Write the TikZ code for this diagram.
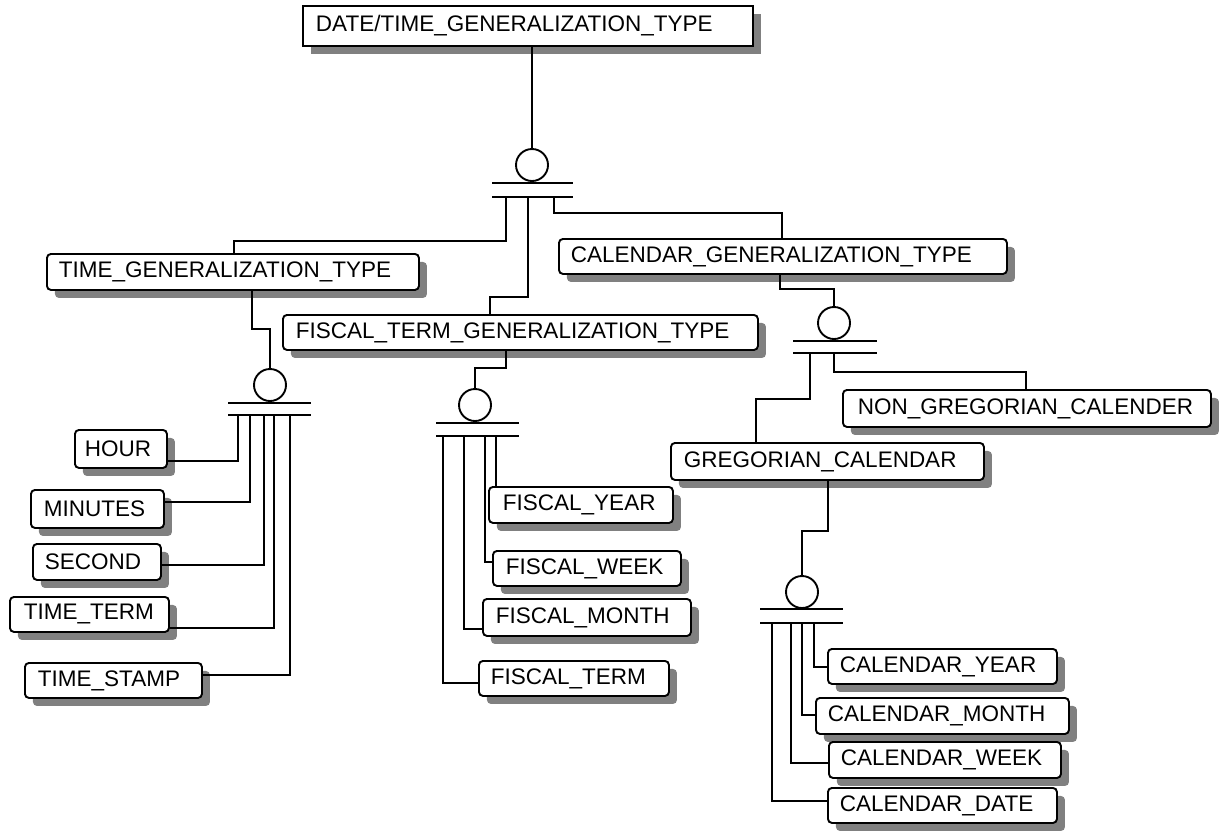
\documentclass[tikz,border=0pt]{standalone}
\usepackage{fontspec}
\setmainfont{Liberation Sans}
\usetikzlibrary{shadows}
\tikzset{
  ent/.style={draw, line width=1.9pt, fill=white, rounded corners=4pt, anchor=north west,
    inner ysep=0pt, align=left, font=\fontsize{22.5}{26}\selectfont,
    drop shadow={shadow xshift=8pt, shadow yshift=-8pt, opacity=1, fill=black!50}},
  indep/.style={ent, rounded corners=0pt},
  conn/.style={line width=1.9pt},
  gcirc/.style={circle, draw, line width=1.9pt, minimum size=32pt, inner sep=0pt, fill=white},
}
\newcommand\ebox[8][ent]{%
  \pgfmathsetmacro\ebw{#5-#3}%
  \pgfmathsetmacro\ebh{#6-#4}%
  \pgfmathsetmacro\ebp{#7-#3}%
  \pgfmathsetmacro\ebt{#5-#3-2*(#7-#3)}%
  \node[#1, minimum width=\ebw pt, minimum height=\ebh pt, inner xsep=\ebp pt, text width=\ebt pt] (#2) at (#3,#4) {#8};}
\newcommand\gbars[4]{% y1 y2 xl xr
  \draw[conn] (#3,#1) -- (#4,#1);
  \draw[conn] (#3,#2) -- (#4,#2);}
\begin{document}
\begin{tikzpicture}[x=1pt,y=-1pt]
\useasboundingbox (0,0) rectangle (1223,831);

% ---------- entities ----------
\ebox[indep]{top}{302}{5}{752}{45}{315}{DATE/TIME\_GENERALIZATION\_TYPE}
\ebox{tgen}{46}{253}{418}{289}{58}{TIME\_GENERALIZATION\_TYPE}
\ebox{fgen}{282}{314}{757}{349}{295}{FISCAL\_TERM\_GENERALIZATION\_TYPE}
\ebox{cgen}{558}{238}{1006}{273}{570}{CALENDAR\_GENERALIZATION\_TYPE}

\ebox{hour}{74}{429}{166}{467}{84}{HOUR}
\ebox{minu}{30}{489}{163}{527}{43}{MINUTES}
\ebox{seco}{32}{543}{160}{579}{44}{SECOND}
\ebox{tterm}{9}{596}{168}{631}{23}{TIME\_TERM}
\ebox{tstamp}{24}{662}{201}{697}{37}{TIME\_STAMP}

\ebox{fyear}{488}{486}{672}{522}{502}{FISCAL\_YEAR}
\ebox{fweek}{492}{550}{680}{585}{505}{FISCAL\_WEEK}
\ebox{fmonth}{482}{598}{690}{635}{495}{FISCAL\_MONTH}
\ebox{fterm}{478}{660}{668}{695}{490}{FISCAL\_TERM}

\ebox{nong}{842}{389}{1210}{426}{857}{NON\_GREGORIAN\_CALENDER}
\ebox{greg}{670}{442}{983}{479}{683}{GREGORIAN\_CALENDAR}

\ebox{cyear}{827}{648}{1056}{683}{839}{CALENDAR\_YEAR}
\ebox{cmonth}{815}{697}{1068}{733}{827}{CALENDAR\_MONTH}
\ebox{cweek}{828}{741}{1060}{777}{840}{CALENDAR\_WEEK}
\ebox{cdate}{827}{787}{1056}{822}{839}{CALENDAR\_DATE}

% ---------- generalization symbols ----------
\node[gcirc] (g1) at (532,165) {};
\gbars{183}{197}{492}{573}
\node[gcirc] (g2) at (270,385) {};
\gbars{403}{415}{228}{311}
\node[gcirc] (g3) at (475,405) {};
\gbars{423}{436}{436}{519}
\node[gcirc] (g4) at (834,323) {};
\gbars{341}{353}{793}{877}
\node[gcirc] (g5) at (802,592) {};
\gbars{609}{623}{760}{843}

% ---------- top level ----------
\draw[conn] (g1.north |- top.south) -- (g1.north);
\coordinate (b1a) at (506,197);
\coordinate (b1b) at (528,197);
\coordinate (b1c) at (554,197);
\coordinate (k1) at (234,241);
\coordinate (k2) at (490,297);
\coordinate (k3) at (782,213);
\draw[conn] (b1a) |- (k1) -- (k1 |- tgen.north);
\draw[conn] (b1b) |- (k2) -- (k2 |- fgen.north);
\draw[conn] (b1c) |- (k3) -- (k3 |- cgen.north);

% ---------- time ----------
\coordinate (k4) at (252,329);
\draw[conn] (k4 |- tgen.south) -- (k4) -| (g2.north);
\coordinate (b2a) at (238,415);
\coordinate (b2b) at (250,415);
\coordinate (b2c) at (264,415);
\coordinate (b2d) at (274,415);
\coordinate (b2e) at (290,415);
\coordinate (h1) at (238,461);
\coordinate (h2) at (250,502);
\coordinate (h3) at (264,565);
\coordinate (h4) at (274,628);
\coordinate (h5) at (290,675);
\draw[conn] (b2a) -- (h1) -- (h1 -| hour.east);
\draw[conn] (b2b) -- (h2) -- (h2 -| minu.east);
\draw[conn] (b2c) -- (h3) -- (h3 -| seco.east);
\draw[conn] (b2d) -- (h4) -- (h4 -| tterm.east);
\draw[conn] (b2e) -- (h5) -- (h5 -| tstamp.east);

% ---------- fiscal ----------
\coordinate (k5) at (506,368);
\draw[conn] (k5 |- fgen.south) -- (k5) -| (g3.north);
\coordinate (b3a) at (443,436);
\coordinate (b3b) at (464,436);
\coordinate (b3c) at (485,436);
\coordinate (b3d) at (496,436);
\coordinate (f2) at (485,562);
\coordinate (f3) at (464,629);
\coordinate (f4) at (443,683);
\draw[conn] (b3d) -- (b3d |- fyear.north);
\draw[conn] (b3c) -- (f2) -- (f2 -| fweek.west);
\draw[conn] (b3b) -- (f3) -- (f3 -| fmonth.west);
\draw[conn] (b3a) -- (f4) -- (f4 -| fterm.west);

% ---------- calendar ----------
\coordinate (k6) at (780,289);
\draw[conn] (k6 |- cgen.south) -- (k6) -| (g4.north);
\coordinate (b4a) at (810,353);
\coordinate (b4b) at (834,353);
\coordinate (k8) at (756,399);
\coordinate (k9) at (1026,372);
\draw[conn] (b4a) |- (k8) -- (k8 |- greg.north);
\draw[conn] (b4b) |- (k9) -- (k9 |- nong.north);

\coordinate (k7) at (828,531);
\draw[conn] (k7 |- greg.south) -- (k7) -| (g5.north);
\coordinate (b5a) at (772,623);
\coordinate (b5b) at (791,623);
\coordinate (b5c) at (802,623);
\coordinate (b5d) at (814,623);
\coordinate (c1) at (814,667);
\coordinate (c2) at (802,715);
\coordinate (c3) at (791,763);
\coordinate (c4) at (772,801);
\draw[conn] (b5d) -- (c1) -- (c1 -| cyear.west);
\draw[conn] (b5c) -- (c2) -- (c2 -| cmonth.west);
\draw[conn] (b5b) -- (c3) -- (c3 -| cweek.west);
\draw[conn] (b5a) -- (c4) -- (c4 -| cdate.west);
\end{tikzpicture}
\end{document}
